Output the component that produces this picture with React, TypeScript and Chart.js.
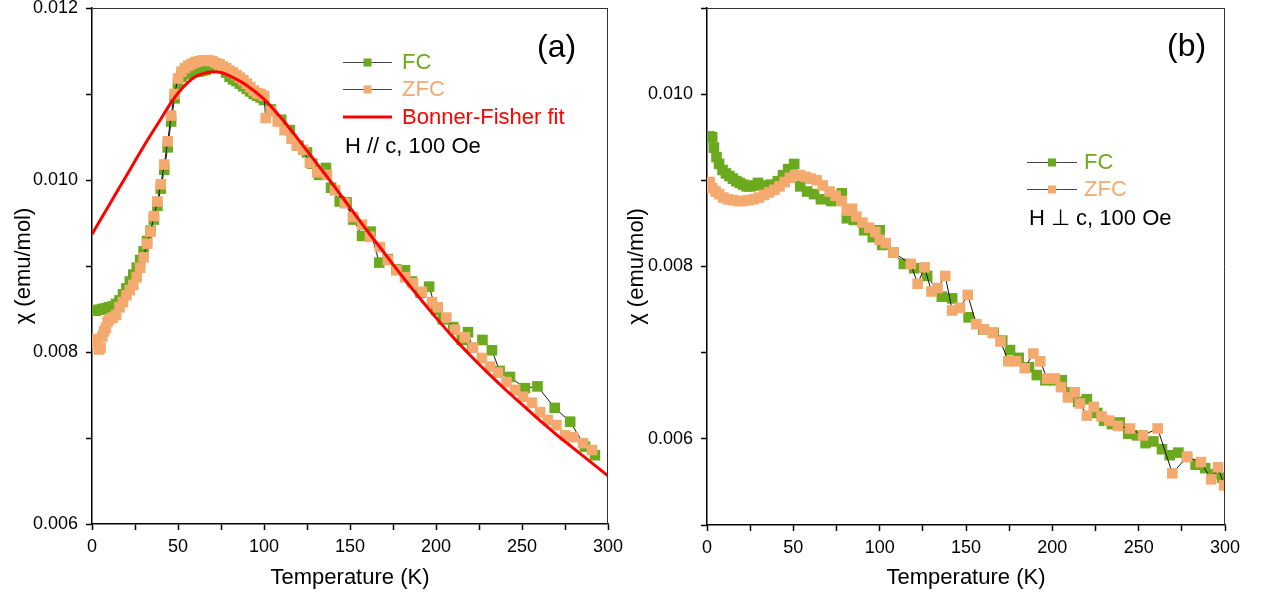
import React, { useEffect, useRef } from 'react';
import { Chart, registerables } from 'chart.js';

Chart.register(...registerables);

const FONT = 'Arial, "Liberation Sans", Helvetica, sans-serif';
const GREEN = '#6BAA1F';
const ORANGE = '#F4AA6E';
const RED = '#FF0000';

// ---- tick labels ----
const xMajorTicks = [0, 50, 100, 150, 200, 250, 300];
const yMajorTicksA = [0.006, 0.008, 0.01, 0.012];
const yMajorTicksB = [0.006, 0.008, 0.01];

// ---- panel (a): H // c ----
const tempA_FC = [2, 4, 6, 8, 10, 12, 14, 16, 18, 20, 22, 24, 26, 28, 30, 32, 34, 36, 38, 40, 42, 44, 46, 48, 50, 52, 54, 56, 58, 60, 62, 64, 66, 68, 70, 72, 74, 76, 78, 80, 82, 84, 86, 88, 90, 92, 94, 96, 98, 100, 104, 110, 115, 120, 125, 128, 132, 136, 139, 144, 148, 152, 157, 162, 167, 172, 177, 182, 186, 191, 196, 200, 204, 210, 215, 218.6, 221, 227, 232.5, 237, 243, 251.7, 259, 269, 278, 286.6, 292.4];
const chiA_FC = [0.00848, 0.00849, 0.0085, 0.00851, 0.00852, 0.00853, 0.00856, 0.0086, 0.00867, 0.00874, 0.00882, 0.0089, 0.00898, 0.00907, 0.00917, 0.00929, 0.00941, 0.00954, 0.0097, 0.0099, 0.01012, 0.01038, 0.01068, 0.01095, 0.01112, 0.0112, 0.01123, 0.01124, 0.01125, 0.01126, 0.01126, 0.01127, 0.01128, 0.0113, 0.01132, 0.01134, 0.01134, 0.01131, 0.01125, 0.0112, 0.01117, 0.01115, 0.01112, 0.01109, 0.01106, 0.01103, 0.011, 0.01098, 0.01096, 0.01093, 0.01082, 0.0107, 0.01058, 0.0104, 0.01032, 0.01019, 0.01006, 0.01014, 0.00991, 0.00975, 0.00974, 0.00954, 0.00935, 0.0094, 0.00904, 0.00908, 0.00896, 0.00895, 0.00882, 0.00869, 0.00876, 0.00849, 0.00838, 0.00829, 0.00814, 0.00823, 0.00805, 0.00814, 0.00802, 0.00778, 0.00771, 0.00758, 0.0076, 0.00735, 0.00719, 0.0069, 0.0068];

const tempA_ZFC = [2, 3, 4, 5, 6, 7, 8, 9, 10, 12, 14, 16, 18, 20, 22, 24, 26, 28, 30, 32, 34, 36, 38, 40, 42, 44, 46, 48, 50, 52, 54, 56, 58, 60, 62, 64, 66, 68, 70, 72, 74, 76, 78, 80, 82, 84, 86, 88, 90, 92, 94, 96, 98, 100, 101, 104, 108, 112, 116, 119, 122.7, 126.7, 131, 136.6, 141.3, 147, 151.7, 157, 161.6, 167.4, 172, 177, 182, 186.6, 191.8, 197.7, 201, 206, 211, 216.8, 221.5, 226.7, 231.4, 236, 241, 246, 250.6, 255.8, 260.5, 265, 270, 275, 279.7, 285.5, 290.7];
const chiA_ZFC = [0.00815, 0.0081, 0.00803, 0.00805, 0.00818, 0.00824, 0.00828, 0.00835, 0.00838, 0.0084, 0.00843, 0.00852, 0.00858, 0.00866, 0.00872, 0.00878, 0.00887, 0.00898, 0.0091, 0.00926, 0.0094, 0.00958, 0.00975, 0.00995, 0.01018, 0.01045, 0.01075, 0.011, 0.01118, 0.01126, 0.0113, 0.01133, 0.01135, 0.01137, 0.01138, 0.01139, 0.01139, 0.01139, 0.01138, 0.01136, 0.01134, 0.01132, 0.0113, 0.01127, 0.01125, 0.01122, 0.01119, 0.01116, 0.01112, 0.01108, 0.01104, 0.01101, 0.011, 0.01098, 0.01072, 0.0108, 0.01068, 0.01058, 0.01048, 0.0104, 0.01035, 0.0102, 0.01009, 0.01006, 0.00988, 0.00973, 0.00957, 0.00948, 0.00934, 0.00922, 0.00907, 0.00895, 0.00887, 0.0088, 0.0087, 0.00858, 0.00852, 0.0084, 0.00826, 0.00817, 0.00805, 0.00793, 0.00783, 0.00776, 0.00765, 0.00756, 0.00748, 0.00741, 0.0073, 0.00721, 0.00715, 0.00703, 0.00701, 0.00694, 0.00686];

const tempFit = [0, 10, 20, 30, 40, 45, 50, 55, 60, 65, 70, 75, 80, 90, 100, 110, 120, 130, 140, 150, 160, 170, 180, 190, 200, 210, 220, 230, 240, 250, 260, 270, 280, 290, 300];
const chiFit = [0.00937, 0.00971, 0.01005, 0.01039, 0.01071, 0.01087, 0.01101, 0.01112, 0.0112, 0.01124, 0.01126, 0.01125, 0.01121, 0.0111, 0.01094, 0.01072, 0.01047, 0.01021, 0.00995, 0.00968, 0.00941, 0.00915, 0.00889, 0.00864, 0.0084, 0.00817, 0.00796, 0.00776, 0.00757, 0.00739, 0.00721, 0.00704, 0.00688, 0.00672, 0.00656];

// ---- panel (b): H ⊥ c ----
const tempB_FC = [1.5, 3, 4, 5.5, 7, 9, 11, 13, 15, 17, 19, 21, 23, 25, 27, 29.5, 33, 37, 41, 44, 47, 50.5, 54, 58, 62, 66, 72, 78, 81, 85, 91, 96, 100, 101.5, 108, 114, 120, 127.5, 136, 142, 151.5, 160, 166, 171, 175.5, 180.5, 186.5, 191, 196, 201, 205.5, 210.5, 215, 220, 226, 230, 234.5, 239, 244, 249, 254, 258.5, 263.5, 268, 273, 278, 283, 288.5, 293.5, 298.5];
const chiB_FC = [0.00951, 0.0095, 0.00938, 0.00927, 0.00919, 0.00912, 0.00908, 0.00905, 0.00902, 0.00899, 0.00897, 0.00895, 0.00893, 0.00893, 0.00894, 0.00897, 0.00894, 0.00895, 0.00899, 0.00906, 0.00913, 0.00919, 0.00893, 0.00887, 0.00884, 0.00878, 0.00876, 0.00885, 0.00856, 0.00854, 0.00842, 0.00834, 0.00842, 0.00825, 0.00816, 0.00803, 0.00798, 0.00789, 0.00765, 0.00763, 0.00741, 0.00727, 0.00723, 0.00714, 0.00703, 0.00694, 0.00683, 0.00674, 0.00668, 0.00668, 0.00668, 0.00654, 0.00643, 0.00646, 0.0063, 0.00621, 0.00617, 0.00619, 0.00606, 0.00604, 0.00595, 0.00597, 0.00588, 0.00581, 0.00584, 0.00579, 0.0057, 0.00566, 0.00559, 0.00555];

const tempB_ZFC = [1.5, 3, 5, 7, 9.5, 12, 15, 18, 21, 24, 27, 30, 33, 36, 39, 42, 45, 48, 51, 54, 57, 60, 63.5, 67, 71, 74.5, 78, 81, 84, 86.5, 90, 94, 97.5, 100, 103.5, 108, 118, 122, 126, 130, 133.5, 138, 142, 146.5, 151, 156, 160.5, 165.5, 170, 174.5, 179, 184, 189, 193, 197, 201.5, 205, 209, 213, 216, 220, 224, 228.5, 233, 238, 245, 252.5, 261, 269.5, 278, 286, 292, 296, 299.5];
const chiB_ZFC = [0.00898, 0.00891, 0.00887, 0.00884, 0.0088, 0.00878, 0.00877, 0.00876, 0.00876, 0.00877, 0.00878, 0.0088, 0.00883, 0.00886, 0.00889, 0.00893, 0.00898, 0.00903, 0.00906, 0.00906, 0.00904, 0.00902, 0.009, 0.00894, 0.00887, 0.00882, 0.00876, 0.00865, 0.00867, 0.00858, 0.00851, 0.00845, 0.0084, 0.00831, 0.00827, 0.00816, 0.00803, 0.0078, 0.00799, 0.00771, 0.00775, 0.00789, 0.00749, 0.00752, 0.00767, 0.00733, 0.00727, 0.00723, 0.00713, 0.0069, 0.0069, 0.00682, 0.00699, 0.0069, 0.0067, 0.0067, 0.0066, 0.00648, 0.00654, 0.00641, 0.00627, 0.00637, 0.00626, 0.00621, 0.00615, 0.00612, 0.00604, 0.00612, 0.0056, 0.00579, 0.00573, 0.00553, 0.00567, 0.00546];

function pts(t: number[], c: number[]) {
  return t.map((v, i) => ({ x: v, y: c[i] }));
}

function dataSeries(label: string, t: number[], c: number[], color: string, order: number) {
  return {
    label,
    data: pts(t, c),
    borderColor: '#111',
    borderWidth: 1,
    pointStyle: 'rect',
    pointRadius: 7.5,
    pointHoverRadius: 7.5,
    pointBackgroundColor: color,
    pointBorderWidth: 0,
    showLine: true,
    tension: 0,
    order,
  };
}

type KeyRow = { kind: 'series' | 'line' | 'text'; y: number; color: string; text: string };
type Annot = { x0: number; x1: number; textX: number; rows: KeyRow[]; tag: string; tagX: number; tagY: number };

function makePlugin(annot: Annot) {
  return {
    id: 'frameAndKey',
    afterDraw(chart: any) {
      const ctx = chart.ctx as CanvasRenderingContext2D;
      const a = chart.chartArea;
      ctx.save();
      ctx.strokeStyle = '#333';
      ctx.lineWidth = 1;
      ctx.beginPath();
      ctx.moveTo(a.left, a.top + 0.5);
      ctx.lineTo(a.right, a.top + 0.5);
      ctx.moveTo(a.right - 0.5, a.top);
      ctx.lineTo(a.right - 0.5, a.bottom);
      ctx.stroke();
      ctx.textBaseline = 'middle';
      ctx.textAlign = 'left';
      ctx.font = `22px ${FONT}`;
      for (const r of annot.rows) {
        if (r.kind === 'series') {
          ctx.strokeStyle = '#444';
          ctx.lineWidth = 1;
          ctx.beginPath();
          ctx.moveTo(annot.x0, r.y + 0.5);
          ctx.lineTo(annot.x1, r.y + 0.5);
          ctx.stroke();
          const mx = (annot.x0 + annot.x1) / 2;
          ctx.fillStyle = r.color;
          ctx.fillRect(mx - 4, r.y - 3.5, 8, 8);
          ctx.fillText(r.text, annot.textX, r.y + 1);
        } else if (r.kind === 'line') {
          ctx.strokeStyle = r.color;
          ctx.lineWidth = 3;
          ctx.beginPath();
          ctx.moveTo(annot.x0, r.y);
          ctx.lineTo(annot.x1, r.y);
          ctx.stroke();
          ctx.fillStyle = r.color;
          ctx.fillText(r.text, annot.textX, r.y + 1);
        } else {
          ctx.fillStyle = r.color;
          ctx.fillText(r.text, annot.x0 + 2, r.y + 1);
        }
      }
      ctx.font = `32px ${FONT}`;
      ctx.fillStyle = '#000';
      ctx.fillText(annot.tag, annot.tagX, annot.tagY);
      ctx.restore();
    },
  };
}

type PanelProps = {
  left: number;
  width: number;
  yMin: number;
  yMax: number;
  yMajor: number[];
  yWidth: number;
  rightPad: number;
  xHeight: number;
  yTitlePad: number;
  datasets: any[];
  annot: Annot;
};

function Panel(p: PanelProps) {
  const ref = useRef<HTMLCanvasElement | null>(null);
  useEffect(() => {
    if (!ref.current) return;
    const tickFont = { family: FONT, size: 18 };
    const titleFont = { family: FONT, size: 22 };
    const chart = new Chart(ref.current, {
      type: 'scatter',
      data: { datasets: p.datasets },
      options: {
        animation: false,
        responsive: false,
        devicePixelRatio: 1,
        layout: { padding: { left: 0, top: 8, right: p.rightPad, bottom: 0 } },
        plugins: { legend: { display: false }, tooltip: { enabled: false } },
        scales: {
          x: {
            type: 'linear',
            min: 0,
            max: 300,
            border: { color: '#000', width: 1.5 },
            grid: { drawOnChartArea: false, drawTicks: true, tickLength: 6, tickColor: '#000', tickWidth: 1.5 },
            ticks: {
              stepSize: 25,
              autoSkip: false,
              maxRotation: 0,
              padding: 6,
              color: '#000',
              font: tickFont,
              callback: (v: any) => (xMajorTicks.includes(Math.round(Number(v))) && Math.abs(Number(v) - Math.round(Number(v))) < 1e-6 ? String(Math.round(Number(v))) : ''),
            },
            title: { display: true, text: 'Temperature (K)', color: '#000', font: titleFont, padding: { top: 0, bottom: 7 } },
            afterFit: (s: any) => {
              s.height = p.xHeight;
              s.paddingLeft = 0;
              s.paddingRight = 0;
              s.paddingTop = 0;
              s.paddingBottom = 0;
            },
          },
          y: {
            type: 'linear',
            min: p.yMin,
            max: p.yMax,
            border: { color: '#000', width: 1.5 },
            grid: { drawOnChartArea: false, drawTicks: true, tickLength: 6, tickColor: '#000', tickWidth: 1.5 },
            ticks: {
              stepSize: 0.001,
              maxTicksLimit: 30,
              autoSkip: false,
              padding: 8,
              color: '#000',
              font: tickFont,
              callback: (v: any) => {
                const m = p.yMajor.find((t) => Math.abs(t - Number(v)) < 1e-7);
                return m !== undefined ? m.toFixed(3) : '';
              },
            },
            title: { display: true, text: 'χ (emu/mol)', color: '#000', font: titleFont, padding: { top: p.yTitlePad, bottom: 0 } },
            afterFit: (s: any) => {
              s.width = p.yWidth;
              s.paddingLeft = 0;
              s.paddingRight = 0;
              s.paddingTop = 0;
              s.paddingBottom = 0;
            },
          },
        },
      } as any,
      plugins: [makePlugin(p.annot)],
    });
    return () => chart.destroy();
  }, []);
  return (
    <canvas
      ref={ref}
      width={p.width}
      height={598}
      style={{ position: 'absolute', left: p.left, top: 0, width: p.width, height: 598 }}
    />
  );
}

export default function App() {
  const datasetsA = [
    {
      label: 'Bonner-Fisher fit',
      data: pts(tempFit, chiFit),
      borderColor: RED,
      borderWidth: 3,
      pointRadius: 0,
      showLine: true,
      cubicInterpolationMode: 'monotone',
      order: 0,
    },
    dataSeries('ZFC', tempA_ZFC, chiA_ZFC, ORANGE, 1),
    dataSeries('FC', tempA_FC, chiA_FC, GREEN, 2),
  ];
  const datasetsB = [dataSeries('ZFC', tempB_ZFC, chiB_ZFC, ORANGE, 0), dataSeries('FC', tempB_FC, chiB_FC, GREEN, 1)];

  const annotA: Annot = {
    x0: 343,
    x1: 392,
    textX: 402,
    rows: [
      { kind: 'series', y: 62, color: GREEN, text: 'FC' },
      { kind: 'series', y: 89, color: ORANGE, text: 'ZFC' },
      { kind: 'line', y: 117, color: RED, text: 'Bonner-Fisher fit' },
      { kind: 'text', y: 146, color: '#000', text: 'H // c, 100 Oe' },
    ],
    tag: '(a)',
    tagX: 537,
    tagY: 48,
  };
  const annotB: Annot = {
    x0: 407,
    x1: 457,
    textX: 464,
    rows: [
      { kind: 'series', y: 162, color: GREEN, text: 'FC' },
      { kind: 'series', y: 189, color: ORANGE, text: 'ZFC' },
      { kind: 'text', y: 218, color: '#000', text: 'H ⊥ c, 100 Oe' },
    ],
    tag: '(b)',
    tagX: 547,
    tagY: 47,
  };

  return (
    <div style={{ position: 'absolute', left: 0, top: 0, width: 1271, height: 598, background: '#fff', overflow: 'hidden' }}>
      <Panel
        left={0}
        width={640}
        yMin={0.006}
        yMax={0.012}
        yMajor={yMajorTicksA}
        yWidth={92}
        rightPad={32}
        xHeight={74}
        yTitlePad={11}
        datasets={datasetsA}
        annot={annotA}
      />
      <Panel
        left={620}
        width={651}
        yMin={0.005}
        yMax={0.011}
        yMajor={yMajorTicksB}
        yWidth={87}
        rightPad={46}
        xHeight={73}
        yTitlePad={4}
        datasets={datasetsB}
        annot={annotB}
      />
    </div>
  );
}
